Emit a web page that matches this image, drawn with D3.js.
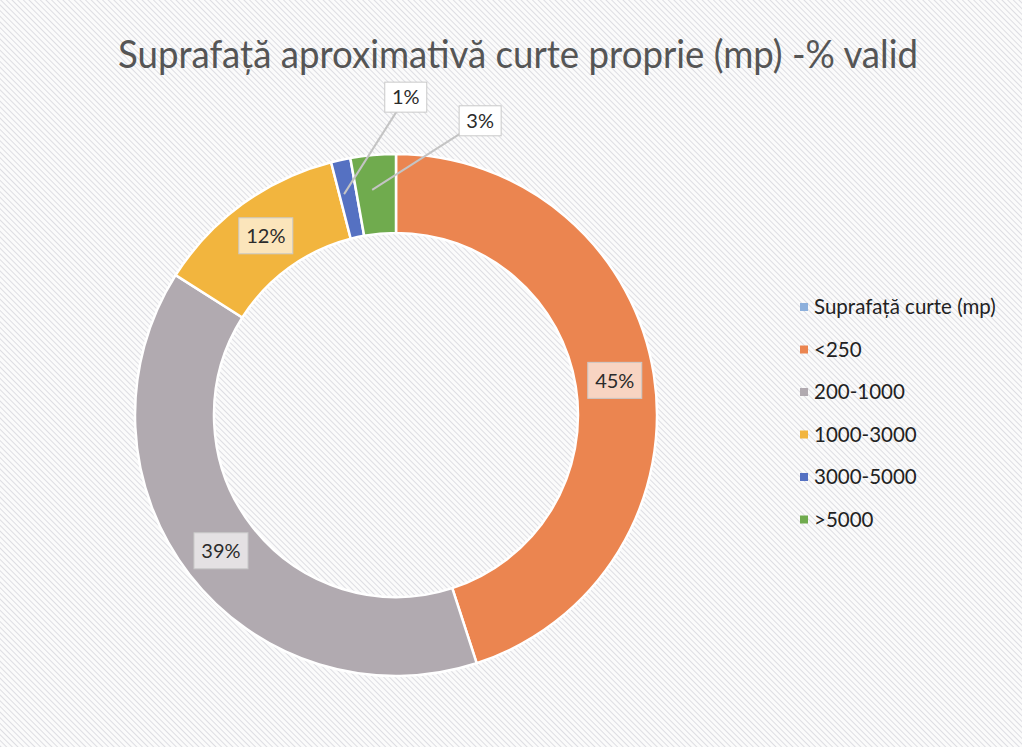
<!DOCTYPE html>
<html>
<head>
<meta charset="utf-8">
<style>
  html, body { margin: 0; padding: 0; background: #fff; }
  svg { display: block; font-family: Lato, "Open Sans", sans-serif; }
</style>
</head>
<body>
<svg width="1022" height="747"></svg>
<script src="https://d3js.org/d3.v7.min.js"></script>
<script>

// Donut: approximate yard area, % of valid answers

var title = "Suprafață aproximativă curte proprie (mp) -% valid";

var categories = ["Suprafață curte (mp)", "<250", "200-1000", "1000-3000", "3000-5000", ">5000"];
var percents   = [0, 45, 39, 12, 1.2, 2.8];
var colors     = ["#8db0dc", "#eb8550", "#b1aab0", "#f2b53e", "#5571c2", "#70ab4e"];

var svg = d3.select("svg"),
    width = +svg.attr("width"),
    height = +svg.attr("height");

// scanned-paper hatching
var defs = svg.append("defs");
defs.append("pattern")
    .attr("id", "hatch")
    .attr("patternUnits", "userSpaceOnUse")
    .attr("width", 4).attr("height", 4)
    .attr("patternTransform", "rotate(-45)")
  .append("line")
    .attr("x1", 0).attr("y1", 0).attr("x2", 0).attr("y2", 4)
    .attr("stroke", "#cdcdd6").attr("stroke-width", 1.3);

svg.append("rect").attr("width", width).attr("height", height).attr("fill", "#fbfbfb");
svg.append("rect").attr("width", width).attr("height", height).attr("fill", "url(#hatch)");

svg.append("text")
    .attr("x", 518).attr("y", 68)
    .attr("text-anchor", "middle")
    .attr("font-size", 38)
    .attr("fill", "#555")
    .attr("textLength", 800)
    .attr("lengthAdjust", "spacingAndGlyphs")
    .text(title);

var data = categories.map(function(c, i) { return {name: c, value: percents[i], color: colors[i]}; });

var cx = 396, cy = 415, outer = 261, inner = 182;

var pie = d3.pie()
    .sort(null)
    .value(function(d) { return d.value; });

var arc = d3.arc().innerRadius(inner).outerRadius(outer);
var mid = d3.arc().innerRadius(inner + 44).outerRadius(inner + 44);

var g = svg.append("g").attr("transform", "translate(" + cx + "," + cy + ")");

var arcs = pie(data).filter(function(a) { return a.data.value > 0; });

g.selectAll("path.slice")
    .data(arcs)
  .enter().append("path")
    .attr("class", "slice")
    .attr("d", arc)
    .attr("fill", function(d) { return d.data.color; })
    .attr("stroke", "#fff")
    .attr("stroke-width", 2.5);

// small slices get their label pushed outside with a leader line
var outside = {"3000-5000": {turn: 14, r: 318}, ">5000": {turn: 21, r: 306}};

function labelPos(d) {
  var o = outside[d.data.name];
  if (!o) return arc.centroid(d);
  var a = (d.startAngle + d.endAngle) / 2 + o.turn * Math.PI / 180;
  return [o.r * Math.sin(a), -o.r * Math.cos(a)];
}

g.selectAll("line.leader")
    .data(arcs.filter(function(d) { return outside[d.data.name]; }))
  .enter().append("line")
    .attr("class", "leader")
    .attr("x1", function(d) { return mid.centroid(d)[0] - 4; })
    .attr("y1", function(d) { return mid.centroid(d)[1]; })
    .attr("x2", function(d) { return labelPos(d)[0]; })
    .attr("y2", function(d) { return labelPos(d)[1]; })
    .attr("stroke", "#c4c4c4")
    .attr("stroke-width", 2);

var lab = g.selectAll("g.lab")
    .data(arcs)
  .enter().append("g")
    .attr("class", "lab")
    .attr("transform", function(d) { return "translate(" + labelPos(d) + ")"; });

lab.append("rect")
    .attr("x", -27).attr("y", -18)
    .attr("width", 54).attr("height", 36)
    .attr("fill", "#fff")
    .attr("fill-opacity", function(d) { return outside[d.data.name] ? 1 : 0.65; })
    .attr("stroke", "#c9c9c9")
    .attr("stroke-width", 1);

lab.append("text")
    .attr("text-anchor", "middle")
    .attr("dy", "0.36em")
    .attr("font-size", 20)
    .attr("fill", "#2b2b2b")
    .text(function(d) { return Math.round(d.data.value) + "%"; });

lab.filter(function(d) { return outside[d.data.name]; }).select("rect")
    .attr("x", -21).attr("width", 42).attr("y", -15).attr("height", 30);

// legend
var legend = svg.append("g").attr("transform", "translate(800,307)");

var row = legend.selectAll("g")
    .data(data)
  .enter().append("g")
    .attr("transform", function(d, i) { return "translate(0," + (i * 42.5) + ")"; });

row.append("rect")
    .attr("x", 0).attr("y", -4)
    .attr("width", 8).attr("height", 8)
    .attr("fill", function(d) { return d.color; });

row.append("text")
    .attr("x", 14)
    .attr("dy", "0.36em")
    .attr("font-size", 20.5)
    .attr("fill", "#222")
    .text(function(d) { return d.name; });

</script>
</body>
</html>
